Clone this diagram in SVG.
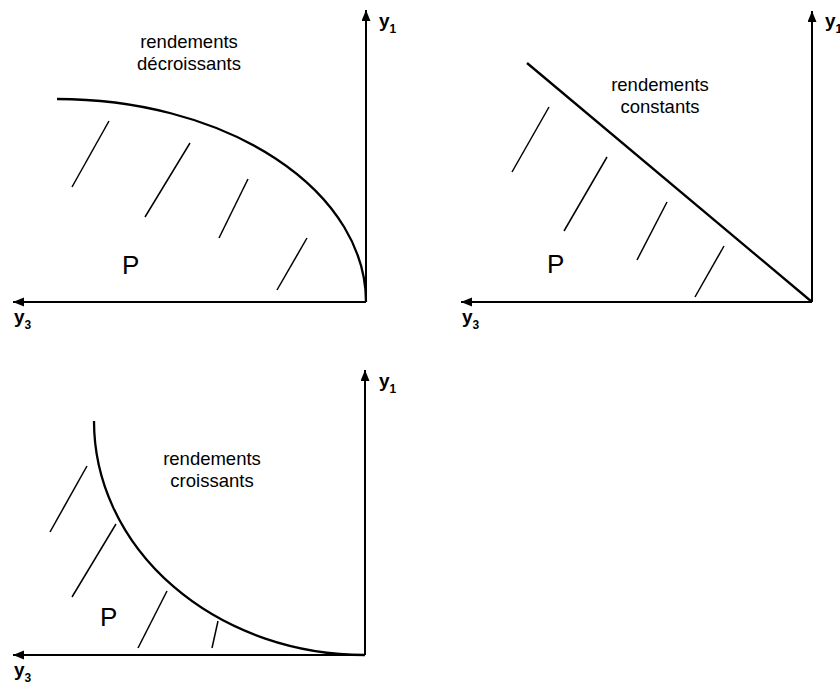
<svg xmlns="http://www.w3.org/2000/svg" width="840" height="684" viewBox="0 0 840 684">
<style>
.axis{stroke:#000;stroke-width:2;fill:none}
.curve{stroke:#000;stroke-width:2.3;fill:none}
.hatch{stroke:#000;stroke-width:1.5;fill:none}
.lbl{font-family:"Liberation Sans",Arial,sans-serif;font-size:18.5px;fill:#000;text-anchor:middle}
.p{font-family:"Liberation Sans",Arial,sans-serif;font-size:26px;fill:#000}
.ax{font-family:"Liberation Sans",Arial,sans-serif;font-size:19px;font-weight:bold;fill:#000}
.sub{font-size:12px}
</style>
<defs>
<marker id="arr" markerUnits="userSpaceOnUse" markerWidth="12" markerHeight="10" refX="11" refY="4.5" orient="auto">
<path d="M0,0 L11,4.5 L0,9 Z" fill="#000"/>
</marker>
</defs>
<g id="connectors">
<line class="axis" x1="366" y1="302" x2="366" y2="10" marker-end="url(#arr)"/>
<line class="axis" x1="366" y1="302" x2="13" y2="302" marker-end="url(#arr)"/>
<line class="axis" x1="812" y1="302" x2="812" y2="11" marker-end="url(#arr)"/>
<line class="axis" x1="812" y1="302" x2="461" y2="302" marker-end="url(#arr)"/>
<line class="axis" x1="365" y1="655" x2="365" y2="370" marker-end="url(#arr)"/>
<line class="axis" x1="365" y1="655" x2="13" y2="655" marker-end="url(#arr)"/>
</g>
<g id="panel-decroissants">
<path class="curve" d="M57,99 A309,203 0 0 1 366,302"/>
<line class="hatch" x1="109" y1="121" x2="72" y2="187"/>
<line class="hatch" x1="190" y1="143" x2="145" y2="217"/>
<line class="hatch" x1="248" y1="179" x2="219" y2="238"/>
<line class="hatch" x1="307" y1="238" x2="277" y2="290"/>
<text class="lbl" x="189" y="48">rendements</text>
<text class="lbl" x="189" y="70">décroissants</text>
<text class="p" x="122" y="274">P</text>
<text class="ax" x="379" y="27">y<tspan class="sub" dy="6">1</tspan></text>
<text class="ax" x="14" y="323">y<tspan class="sub" dy="6">3</tspan></text>
</g>
<g id="panel-constants">
<line class="curve" x1="527" y1="63" x2="812" y2="302"/>
<line class="hatch" x1="549" y1="107" x2="512" y2="172"/>
<line class="hatch" x1="607" y1="157" x2="564" y2="231"/>
<line class="hatch" x1="667" y1="202" x2="637" y2="260"/>
<line class="hatch" x1="724" y1="246" x2="695" y2="297"/>
<text class="lbl" x="660" y="91">rendements</text>
<text class="lbl" x="660" y="113">constants</text>
<text class="p" x="547" y="273">P</text>
<text class="ax" x="825" y="27">y<tspan class="sub" dy="6">1</tspan></text>
<text class="ax" x="462" y="323">y<tspan class="sub" dy="6">3</tspan></text>
</g>
<g id="panel-croissants">
<path class="curve" d="M94,421 A271,234 0 0 0 365,655"/>
<line class="hatch" x1="87" y1="466" x2="50" y2="532"/>
<line class="hatch" x1="116" y1="524" x2="72" y2="597"/>
<line class="hatch" x1="167" y1="591" x2="138" y2="648"/>
<line class="hatch" x1="218" y1="621" x2="212" y2="648"/>
<text class="lbl" x="212" y="465">rendements</text>
<text class="lbl" x="212" y="487">croissants</text>
<text class="p" x="100" y="626">P</text>
<text class="ax" x="379" y="387">y<tspan class="sub" dy="6">1</tspan></text>
<text class="ax" x="14" y="676">y<tspan class="sub" dy="6">3</tspan></text>
</g>
</svg>
